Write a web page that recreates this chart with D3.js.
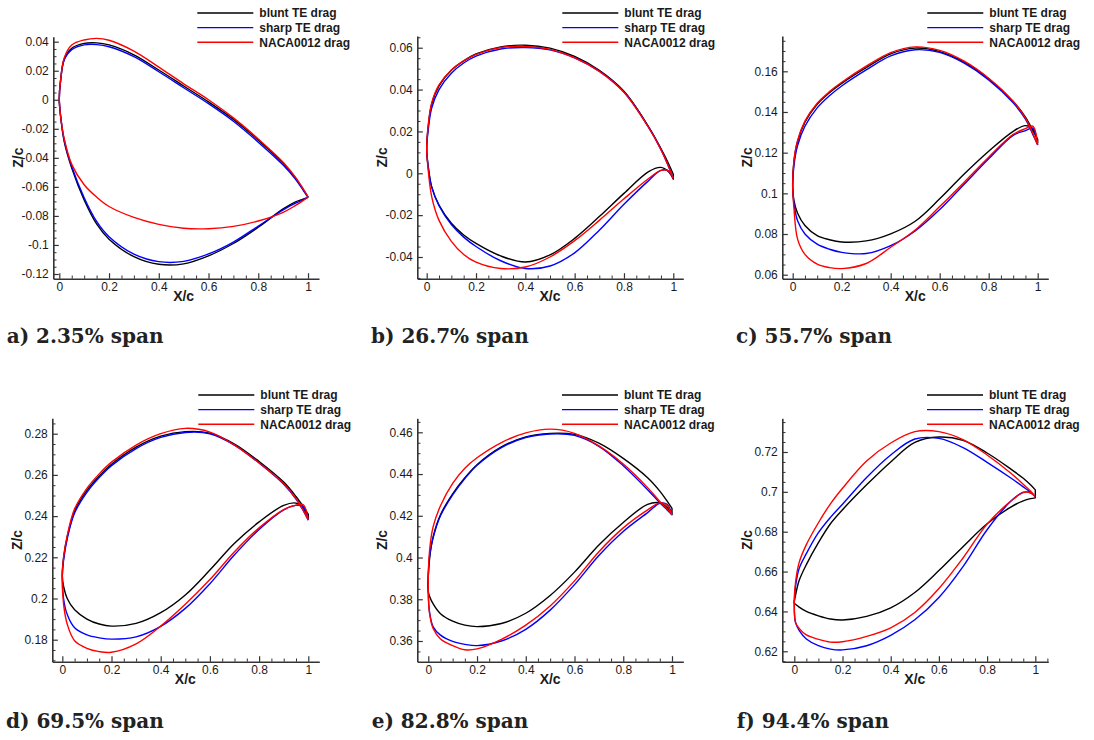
<!DOCTYPE html>
<html><head><meta charset="utf-8">
<script src="https://cdn.jsdelivr.net/npm/d3@7"></script>
<style>body{margin:0;background:#fff} svg{display:block}</style>
</head><body><svg id="c" width="1094" height="740"></svg>
<script>
// chordwise stations (X/c) shared by every surface
const xStations = [0, 0.005, 0.02, 0.05, 0.1, 0.15, 0.2, 0.3, 0.4, 0.5, 0.6, 0.7, 0.8, 0.9, 0.95, 0.98, 1];
const seriesNames = ["blunt TE drag", "sharp TE drag", "NACA0012 drag"];
const captions = ["a) 2.35% span", "b) 26.7% span", "c) 55.7% span", "d) 69.5% span", "e) 82.8% span", "f) 94.4% span"];
const xTicks = [0, 0.2, 0.4, 0.6, 0.8, 1];
const yTicksA = [-0.12, -0.1, -0.08, -0.06, -0.04, -0.02, 0, 0.02, 0.04];
const yTicksB = [-0.04, -0.02, 0, 0.02, 0.04, 0.06];
const yTicksC = [0.06, 0.08, 0.1, 0.12, 0.14, 0.16];
const yTicksD = [0.18, 0.2, 0.22, 0.24, 0.26, 0.28];
const yTicksE = [0.36, 0.38, 0.4, 0.42, 0.44, 0.46];
const yTicksF = [0.62, 0.64, 0.66, 0.68, 0.7, 0.72];

// Z/c of each surface at xStations
const aBluntUp = [0.0005, 0.013, 0.028, 0.0355, 0.0388, 0.0392, 0.0378, 0.031, 0.0205, 0.0095, -0.0015, -0.0135, -0.0278, -0.0438, -0.054, -0.0615, -0.0668];
const aBluntLo = [0.0005, -0.011, -0.029, -0.047, -0.069, -0.0855, -0.096, -0.108, -0.1133, -0.113, -0.1075, -0.099, -0.0878, -0.0752, -0.0703, -0.0685, -0.067];
const aSharpUp = [0.0005, 0.0128, 0.0275, 0.0345, 0.0378, 0.038, 0.0365, 0.0297, 0.0193, 0.0083, -0.0027, -0.0148, -0.0292, -0.045, -0.0548, -0.0622, -0.0672];
const aSharpLo = [0.0005, -0.0105, -0.028, -0.046, -0.0675, -0.0838, -0.0943, -0.1063, -0.1115, -0.1113, -0.1062, -0.098, -0.087, -0.0758, -0.0712, -0.069, -0.0672];
const aNacaUp = [0.0005, 0.013, 0.029, 0.0377, 0.0412, 0.0423, 0.041, 0.0335, 0.0225, 0.011, 0.0, -0.0125, -0.027, -0.043, -0.0535, -0.0612, -0.0668];
const aNacaLo = [0.0005, -0.011, -0.027, -0.0445, -0.0585, -0.067, -0.0735, -0.081, -0.0858, -0.0885, -0.0888, -0.0872, -0.0835, -0.0775, -0.0728, -0.0695, -0.0668];

const bBluntUp = [0.0115, 0.021, 0.033, 0.0418, 0.0492, 0.0537, 0.057, 0.0604, 0.0612, 0.0598, 0.0558, 0.0492, 0.0392, 0.0222, 0.0118, 0.0048, -0.0005];
const bBluntLo = [0.0115, 0.0045, -0.0064, -0.0152, -0.0239, -0.0295, -0.0335, -0.0395, -0.0424, -0.039, -0.0311, -0.0207, -0.0096, 0.0008, 0.0028, 0.0008, -0.0028];
const bSharpUp = [0.0115, 0.0195, 0.031, 0.04, 0.0478, 0.0527, 0.056, 0.0594, 0.0601, 0.059, 0.0552, 0.0488, 0.0388, 0.022, 0.0114, 0.0035, -0.0025];
const bSharpLo = [0.0115, 0.004, -0.0065, -0.0155, -0.0245, -0.0305, -0.035, -0.0418, -0.0455, -0.0443, -0.038, -0.0272, -0.0148, -0.0035, 0.0014, 0.0012, -0.0025];
const bNacaUp = [0.0115, 0.0215, 0.0335, 0.0422, 0.0494, 0.0537, 0.0568, 0.0601, 0.0606, 0.0592, 0.0552, 0.0487, 0.0387, 0.0218, 0.0113, 0.0035, -0.0025];
const bNacaLo = [0.0115, 0.003, -0.011, -0.0225, -0.0325, -0.0388, -0.0425, -0.0455, -0.0448, -0.04, -0.0322, -0.0225, -0.0122, -0.0025, 0.0014, 0.0012, -0.0025];

const cBluntUp = [0.103, 0.1155, 0.1255, 0.135, 0.1438, 0.1495, 0.1541, 0.1618, 0.1686, 0.1714, 0.1697, 0.1645, 0.1563, 0.1452, 0.1375, 0.131, 0.1265];
const cBluntLo = [0.103, 0.0965, 0.0902, 0.0842, 0.0792, 0.0772, 0.0761, 0.0766, 0.0801, 0.0863, 0.0973, 0.1095, 0.1207, 0.1305, 0.1333, 0.1318, 0.125];
const cSharpUp = [0.103, 0.1135, 0.1235, 0.133, 0.142, 0.148, 0.1528, 0.1607, 0.1676, 0.1706, 0.1693, 0.164, 0.1558, 0.1445, 0.1365, 0.129, 0.1238];
const cSharpLo = [0.103, 0.095, 0.0865, 0.08, 0.075, 0.0725, 0.071, 0.0704, 0.0743, 0.0815, 0.092, 0.1045, 0.117, 0.1285, 0.1308, 0.132, 0.1238];
const cNacaUp = [0.103, 0.116, 0.126, 0.1355, 0.1443, 0.15, 0.1546, 0.1625, 0.1692, 0.172, 0.1703, 0.165, 0.1566, 0.1452, 0.137, 0.1295, 0.1238];
const cNacaLo = [0.103, 0.093, 0.0775, 0.07, 0.0652, 0.0635, 0.063, 0.0655, 0.0735, 0.082, 0.0935, 0.1055, 0.1178, 0.129, 0.1318, 0.133, 0.1238];

const dBluntUp = [0.211, 0.2195, 0.23, 0.2425, 0.2525, 0.2595, 0.2652, 0.2735, 0.2788, 0.281, 0.2803, 0.275, 0.2665, 0.2565, 0.2495, 0.2445, 0.2408];
const dBluntLo = [0.211, 0.206, 0.2, 0.1945, 0.19, 0.1876, 0.1866, 0.1879, 0.1931, 0.2017, 0.2138, 0.2268, 0.2372, 0.2452, 0.2463, 0.2435, 0.2385];
const dSharpUp = [0.211, 0.2185, 0.229, 0.2415, 0.2515, 0.2587, 0.2645, 0.2728, 0.2782, 0.2806, 0.28, 0.2745, 0.2658, 0.2555, 0.2483, 0.2425, 0.238];
const dSharpLo = [0.211, 0.2, 0.1922, 0.1858, 0.1823, 0.1809, 0.1803, 0.1814, 0.1865, 0.1952, 0.2072, 0.2212, 0.2335, 0.243, 0.2452, 0.2445, 0.238];
const dNacaUp = [0.211, 0.22, 0.2305, 0.2435, 0.2535, 0.2605, 0.2662, 0.2745, 0.28, 0.2826, 0.2808, 0.2745, 0.2658, 0.2557, 0.2485, 0.2428, 0.238];
const dNacaLo = [0.211, 0.1975, 0.1875, 0.1795, 0.1758, 0.1742, 0.1739, 0.178, 0.1866, 0.1972, 0.2092, 0.2227, 0.2343, 0.2432, 0.2453, 0.2455, 0.238];

const eBluntUp = [0.3835, 0.399, 0.41, 0.4205, 0.4305, 0.4382, 0.4445, 0.453, 0.4578, 0.4595, 0.459, 0.4548, 0.4475, 0.4382, 0.4318, 0.427, 0.4235];
const eBluntLo = [0.3835, 0.3815, 0.3778, 0.3731, 0.3695, 0.3676, 0.3669, 0.3684, 0.3733, 0.3818, 0.393, 0.406, 0.4168, 0.4255, 0.4262, 0.424, 0.4205];
const eSharpUp = [0.384, 0.4005, 0.4095, 0.42, 0.43, 0.4378, 0.4442, 0.4527, 0.4575, 0.4592, 0.4585, 0.4533, 0.444, 0.4325, 0.4262, 0.4228, 0.4205];
const eSharpLo = [0.384, 0.374, 0.3668, 0.3628, 0.3598, 0.3584, 0.3578, 0.36, 0.3656, 0.3748, 0.387, 0.401, 0.4125, 0.4215, 0.426, 0.4255, 0.4205];
const eNacaUp = [0.384, 0.403, 0.4148, 0.4248, 0.4355, 0.4428, 0.4478, 0.4551, 0.4597, 0.4615, 0.4595, 0.4535, 0.4448, 0.4335, 0.4268, 0.4232, 0.4205];
const eNacaLo = [0.384, 0.3735, 0.366, 0.361, 0.3578, 0.3558, 0.3562, 0.3608, 0.3676, 0.3768, 0.3888, 0.4028, 0.4142, 0.4228, 0.4262, 0.425, 0.4205];

const fBluntUp = [0.6441, 0.648, 0.6555, 0.6635, 0.6745, 0.684, 0.691, 0.7035, 0.715, 0.7248, 0.7275, 0.7258, 0.7195, 0.7113, 0.7068, 0.7035, 0.701];
const fBluntLo = [0.6441, 0.6436, 0.6422, 0.64, 0.6378, 0.6362, 0.6357, 0.6375, 0.6418, 0.6495, 0.6605, 0.6725, 0.684, 0.6925, 0.6955, 0.6966, 0.697];
const fSharpUp = [0.645, 0.6525, 0.6615, 0.669, 0.6795, 0.6872, 0.6938, 0.7072, 0.7185, 0.7265, 0.7268, 0.7222, 0.7148, 0.7068, 0.7025, 0.6998, 0.6976];
const fSharpLo = [0.645, 0.6345, 0.6305, 0.6262, 0.6228, 0.6211, 0.6207, 0.6228, 0.628, 0.6358, 0.647, 0.6625, 0.681, 0.6955, 0.6998, 0.6995, 0.6976];
const fNacaUp = [0.645, 0.6545, 0.6645, 0.6735, 0.6845, 0.694, 0.7018, 0.7155, 0.7245, 0.7302, 0.7302, 0.7262, 0.7185, 0.7092, 0.7038, 0.7004, 0.6976];
const fNacaLo = [0.645, 0.6345, 0.6315, 0.6282, 0.626, 0.6246, 0.6248, 0.6275, 0.6318, 0.6395, 0.6515, 0.6668, 0.6838, 0.6955, 0.6996, 0.6995, 0.6976];

// ---------- layout / styling ----------
const seriesColors = ["#000000", "#0000ff", "#ff0000"];
const panels = [
  {box:[53.3,319,36.7,278.7],  xDom:[-0.0241,1.0442], yDom:[-0.12324,0.04344], yTicks:yTicksA,
   curves:[[aBluntUp,aBluntLo],[aSharpUp,aSharpLo],[aNacaUp,aNacaLo]], legend:[197.3,13], cap:[6.7,343.3]},
  {box:[417.3,683.3,36,278.7], xDom:[-0.0381,1.0406], yDom:[-0.05037,0.0656], yTicks:yTicksB,
   curves:[[bBluntUp,bBluntLo],[bSharpUp,bSharpLo],[bNacaUp,bNacaLo]], legend:[562.3,13], cap:[371,343.3]},
  {box:[782.3,1048.3,36,278.7], xDom:[-0.0424,1.0433], yDom:[0.05803,0.17736], yTicks:yTicksC,
   curves:[[cBluntUp,cBluntLo],[cSharpUp,cSharpLo],[cNacaUp,cNacaLo]], legend:[927.3,13], cap:[736,343.3]},
  {box:[52.3,319.3,418.3,661.7], xDom:[-0.0407,1.0447], yDom:[0.16932,0.28748], yTicks:yTicksD,
   curves:[[dBluntUp,dBluntLo],[dSharpUp,dSharpLo],[dNacaUp,dNacaLo]], legend:[198.3,395], cap:[6,727.7]},
  {box:[417.3,683.3,418.3,661.7], xDom:[-0.0451,1.0464], yDom:[0.35008,0.46671], yTicks:yTicksE,
   curves:[[eBluntUp,eBluntLo],[eSharpUp,eSharpLo],[eNacaUp,eNacaLo]], legend:[562,395], cap:[371.7,727.7]},
  {box:[782.3,1048.3,418.3,661.7], xDom:[-0.0498,1.0539], yDom:[0.61478,0.7369], yTicks:yTicksF,
   curves:[[fBluntUp,fBluntLo],[fSharpUp,fSharpLo],[fNacaUp,fNacaLo]], legend:[927,395], cap:[736.7,727.7]}
];

const svg = d3.select('#c');
const fmt = v => String(+(+v).toFixed(4));
const AX = "#333";
const TF = "Liberation Sans, Arial, Helvetica, sans-serif";

function minorVals(dom, step, majors){
  return d3.range(Math.ceil(dom[0]/step - 1e-9), Math.floor(dom[1]/step + 1e-9) + 1)
    .map(k => +(k*step).toFixed(5))
    .filter(v => !majors.some(t => Math.abs(t - v) < 1e-7));
}

panels.forEach((p, pi) => {
  const [L, R, T, B] = p.box;
  const x = d3.scaleLinear().domain(p.xDom).range([L, R]);
  const y = d3.scaleLinear().domain(p.yDom).range([B, T]);
  const g = svg.append('g');

  // curves
  const line = d3.line().x(d => x(d[0])).y(d => y(d[1])).curve(d3.curveCatmullRom.alpha(0.5));
  p.curves.forEach(([up, lo], si) => {
    const pts = [];
    for (let k = xStations.length - 1; k >= 0; k--) pts.push([xStations[k], up[k]]);
    for (let k = 0; k < xStations.length; k++) {
      if (k === 0 && lo[0] === up[0]) continue;
      pts.push([xStations[k], lo[k]]);
    }
    let d = line(pts);
    if (up[up.length - 1] !== lo[lo.length - 1]) d += 'Z';
    g.append('path').attr('d', d).attr('fill', 'none')
      .attr('stroke', seriesColors[si]).attr('stroke-width', 1.4).attr('stroke-linejoin', 'round');
  });

  // minor ticks
  g.append('g').attr('transform', `translate(0,${B})`)
    .call(d3.axisBottom(x).tickValues(minorVals(p.xDom, 0.05, xTicks)).tickSizeInner(-3.2).tickSizeOuter(0).tickFormat(''))
    .call(s => s.select('.domain').remove());
  g.append('g').attr('transform', `translate(${L},0)`)
    .call(d3.axisLeft(y).tickValues(minorVals(p.yDom, 0.005, p.yTicks)).tickSizeInner(-3.2).tickSizeOuter(0).tickFormat(''))
    .call(s => s.select('.domain').remove());

  // major axes
  const gx = g.append('g').attr('transform', `translate(0,${B})`)
    .call(d3.axisBottom(x).tickValues(xTicks).tickSizeInner(-5.5).tickSizeOuter(0).tickPadding(3.4).tickFormat(fmt));
  const gy = g.append('g').attr('transform', `translate(${L},0)`)
    .call(d3.axisLeft(y).tickValues(p.yTicks).tickSizeInner(-5.5).tickSizeOuter(0).tickPadding(4.5).tickFormat(fmt));
  [gx, gy].forEach(a => {
    a.selectAll('.tick line').attr('stroke', AX).attr('stroke-width', 1.2);
    a.select('.domain').attr('stroke', AX).attr('stroke-width', 1.6);
    a.selectAll('text').attr('font-family', TF).attr('font-size', 12).attr('fill', '#1a1a1a');
  });
  g.selectAll('.tick line').attr('stroke', AX);

  // axis titles
  g.append('text').attr('x', x(0.5)).attr('y', B + 22.5).attr('text-anchor', 'middle')
    .attr('font-family', TF).attr('font-weight', 'bold').attr('font-size', 14).attr('fill', '#1a1a1a').text('X/c');
  g.append('text').attr('transform', `translate(${L - 30},${(T + B) / 2}) rotate(-90)`).attr('text-anchor', 'middle')
    .attr('font-family', TF).attr('font-weight', 'bold').attr('font-size', 14).attr('fill', '#1a1a1a').text('Z/c');

  // legend
  const [lx, ly] = p.legend;
  seriesNames.forEach((nm, si) => {
    const yy = ly + si * 14.6;
    g.append('line').attr('x1', lx).attr('x2', lx + 56).attr('y1', yy).attr('y2', yy)
      .attr('stroke', seriesColors[si]).attr('stroke-width', 1.4);
    g.append('text').attr('x', lx + 62).attr('y', yy + 4.3).attr('font-family', TF).attr('font-weight', 'bold')
      .attr('font-size', 12).attr('fill', '#1a1a1a').text(nm);
  });

  // caption
  g.append('text').attr('x', p.cap[0]).attr('y', p.cap[1]).attr('font-family', 'DejaVu Serif, serif')
    .attr('font-weight', 'bold').attr('font-size', 20).attr('fill', '#222').text(captions[pi]);
});
</script>
</body></html>
